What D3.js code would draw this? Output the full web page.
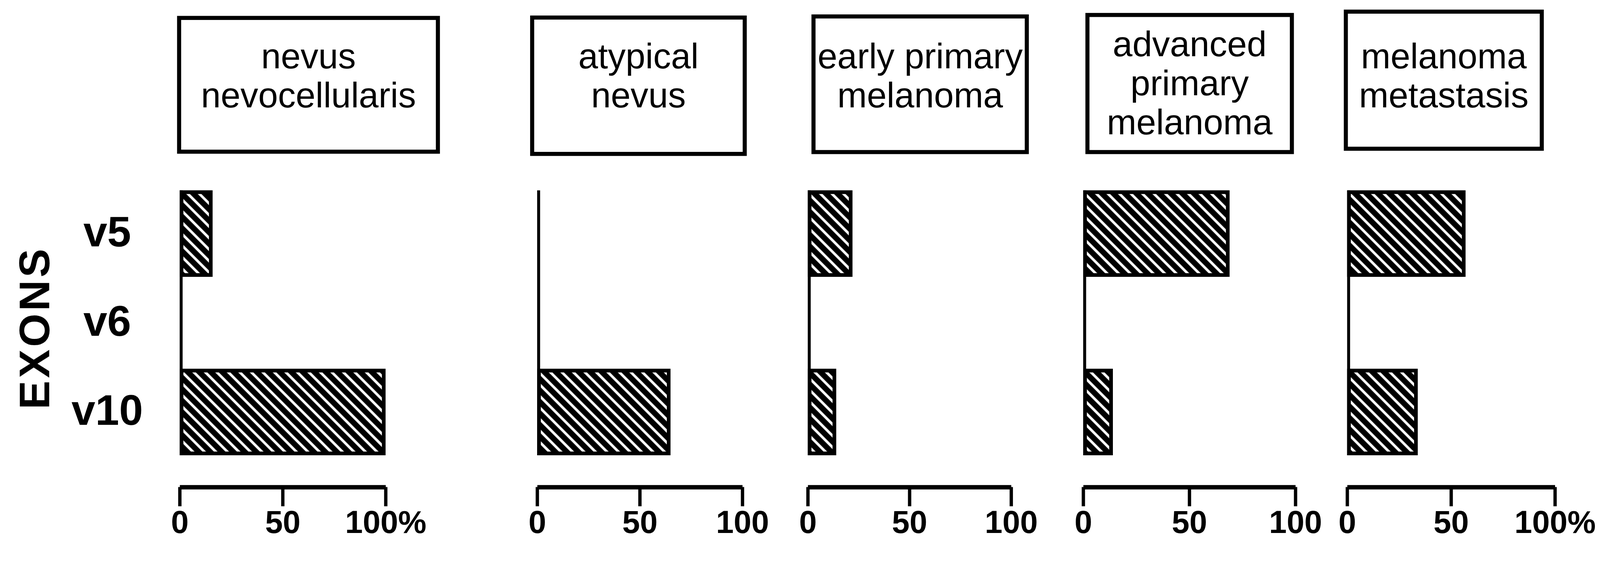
<!DOCTYPE html>
<html>
<head>
<meta charset="utf-8">
<script src="https://cdn.jsdelivr.net/npm/d3@7"></script>
<style>
  html, body { margin: 0; padding: 0; background: #fff; overflow: hidden; }
  svg { display: block; width: 100vw; height: 100vh; }
  text { font-family: "Liberation Sans", Arial, Helvetica, sans-serif; fill: #000; }
</style>
</head>
<body>
<div id="chart-holder"></div>
<script>
// data: one entry per panel (lesion type), "|" splits the box title into lines
var stages = ["nevus|nevocellularis", "atypical|nevus", "early primary|melanoma",
              "advanced|primary|melanoma", "melanoma|metastasis"];
var exons = ["v5", "v6", "v10"];
var v5  = [16, 0, 22, 69, 57];
var v6  = [0, 0, 0, 0, 0];
var v10 = [100, 65, 14, 14, 34];
var tickValues = [0, 50, 100];
var tickLabels = [
  ["0", "50", "100%"],
  ["0", "50", "100"],
  ["0", "50", "100"],
  ["0", "50", "100"],
  ["0", "50", "100%"]
];

// layout of every panel: where the 0..100 axis runs and the title box corners
var panelLayout = [
  {x0: 486,  x1: 1043, box: [479, 43, 1190, 416]},
  {x0: 1453, x1: 2008, box: [1434, 42, 2020, 422]},
  {x0: 2185, x1: 2735, box: [2195, 39, 2783, 417]},
  {x0: 2930, x1: 3504, box: [2936, 35, 3500, 417]},
  {x0: 3644, x1: 4206, box: [3635, 26, 4176, 408]}
];

var width = 4328,
    height = 1447,
    axisY = 1318,
    boxStroke = 11;

// the svg scales to whatever the window really is, pinned to the top
var svg = d3.select("#chart-holder")
  .append("svg")
    .attr("viewBox", "0 0 " + width + " " + height)
    .attr("preserveAspectRatio", "xMidYMin meet");

// hatch fill: black with thin white diagonal stripes
var pat = svg.append("defs").append("pattern")
  .attr("id", "hatch")
  .attr("patternUnits", "userSpaceOnUse")
  .attr("width", 22)
  .attr("height", 22)
  .attr("patternTransform", "rotate(-45)");
pat.append("rect").attr("width", 22).attr("height", 22).attr("fill", "#000");
pat.append("rect").attr("x", 7).attr("width", 7).attr("height", 22).attr("fill", "#fff");

// Y: shared band scale for the exons
var y = d3.scaleBand()
  .domain(exons)
  .range([515, 1232])
  .paddingInner(0.03)
  .paddingOuter(0);

// exon labels
svg.selectAll(".exon")
  .data(exons)
  .enter()
  .append("text")
    .attr("class", "exon")
    .attr("x", 290)
    .attr("y", function(d) { return y(d) + y.bandwidth() / 2; })
    .attr("dy", "0.3em")
    .attr("text-anchor", "middle")
    .style("font-size", "116px")
    .style("font-weight", "bold")
    .text(function(d) { return d; });

svg.append("text")
  .attr("transform", "translate(133,887) rotate(-90)")
  .attr("text-anchor", "middle")
  .style("font-size", "116px")
  .style("font-weight", "bold")
  .style("letter-spacing", "7px")
  .text("EXONS");

stages.forEach(function(stage, i) {
  var lay = panelLayout[i];
  var g = svg.append("g");

  var x = d3.scaleLinear()
    .domain([0, 100])
    .range([lay.x0, lay.x1]);

  var rows = [
    {exon: "v5", value: v5[i]},
    {exon: "v6", value: v6[i]},
    {exon: "v10", value: v10[i]}
  ];

  // title box
  var b = lay.box;
  g.append("rect")
    .attr("x", b[0] + boxStroke / 2)
    .attr("y", b[1] + boxStroke / 2)
    .attr("width", b[2] - b[0] - boxStroke)
    .attr("height", b[3] - b[1] - boxStroke)
    .attr("fill", "#fff")
    .attr("stroke", "#000")
    .attr("stroke-width", boxStroke);

  var lines = stage.split("|");
  var firstBase = 185 - (lines.length - 2) * 33;
  g.selectAll(".title")
    .data(lines)
    .enter()
    .append("text")
      .attr("x", (b[0] + b[2]) / 2)
      .attr("y", function(d, j) { return firstBase + j * 106; })
      .attr("text-anchor", "middle")
      .style("font-size", "96px")
      .text(function(d) { return d; });

  // zero line
  g.append("line")
    .attr("x1", x(0) + 4)
    .attr("x2", x(0) + 4)
    .attr("y1", y("v5"))
    .attr("y2", y("v10") + y.bandwidth())
    .attr("stroke", "#000")
    .attr("stroke-width", 8);

  // bars
  g.selectAll(".bar")
    .data(rows.filter(function(d) { return d.value > 0; }))
    .enter()
    .append("rect")
      .attr("x", x(0) + 5)
      .attr("y", function(d) { return y(d.exon) + 5; })
      .attr("width", function(d) { return x(d.value) - x(0) - 10; })
      .attr("height", y.bandwidth() - 10)
      .attr("fill", "url(#hatch)")
      .attr("stroke", "#000")
      .attr("stroke-width", 10);

  // X axis
  var ax = g.append("g")
    .attr("transform", "translate(0," + axisY + ")")
    .call(d3.axisBottom(x)
      .tickValues(tickValues)
      .tickSize(52)
      .tickSizeOuter(0)
      .tickFormat(function(d, j) { return tickLabels[i][j]; }));

  ax.select(".domain").attr("stroke-width", 12);
  ax.selectAll(".tick line").attr("stroke-width", 9);
  ax.selectAll(".tick text")
    .attr("y", 124)
    .attr("dy", 0)
    .attr("fill", "#000")
    .style("font-size", "86px")
    .style("font-weight", "bold")
    .style("font-family", "'Liberation Sans', Arial, sans-serif");
});
</script>
</body>
</html>
